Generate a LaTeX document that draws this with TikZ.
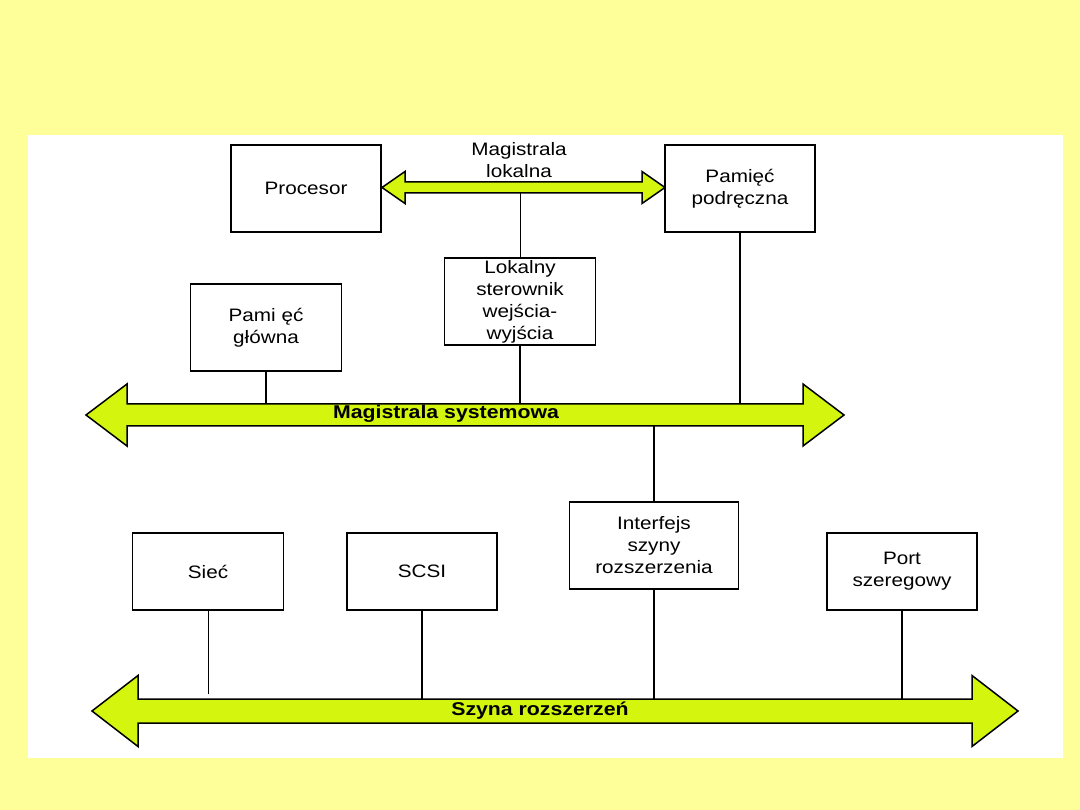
\documentclass[tikz,border=0pt]{standalone}
\usepackage{fontspec}
\setmainfont{Liberation Sans}[FakeStretch=1.15]
\definecolor{bg}{RGB}{255,255,153}
\definecolor{bus}{RGB}{212,245,14}
\tikzset{
  box/.style={draw=black, fill=white, line width=1.6pt, align=center, inner sep=0pt,
    font=\fontsize{18}{22}\selectfont},
  busshape/.style={draw=black, fill=bus, line width=1.5pt, line join=miter},
  wire/.style={draw=black, line width=1.8pt},
  thinwire/.style={draw=black, line width=1pt},
  buslabel/.style={font=\fontsize{18.5}{22}\selectfont\bfseries, inner sep=0pt},
  plain/.style={align=center, inner sep=0pt, font=\fontsize{18}{22}\selectfont}
}
\newcommand\busarrow[6]{% left tip x, right tip x, yc, head length, head half, shaft half
  \path[busshape] (#1,#3) -- (#1+#4,#3-#5) -- (#1+#4,#3-#6) -- (#2-#4,#3-#6) -- (#2-#4,#3-#5)
    -- (#2,#3) -- (#2-#4,#3+#5) -- (#2-#4,#3+#6) -- (#1+#4,#3+#6) -- (#1+#4,#3+#5) -- cycle;}
\begin{document}
\begin{tikzpicture}[x=1pt,y=-1pt]
\fill[bg] (0,0) rectangle (1080,810);
\useasboundingbox (0,0) rectangle (1080,810);
\fill[white] (28,135) rectangle (1063,758);

% buses
\busarrow{382}{665}{187.5}{23}{16}{5.5}
\busarrow{86}{844}{415}{41}{31}{11}
\busarrow{92}{1018}{711}{46}{35.5}{12}

% boxes
\node[box, minimum width=150pt, minimum height=87pt] (proc) at (306,188.5) {Procesor};
\node[box, minimum width=150pt, minimum height=87pt] (cache) at (740,188.5) {Pamięć\\podręczna};
\node[box, minimum width=151pt, minimum height=87pt] (lok) at (520,301.5) {Lokalny\\sterownik\\wejścia-\\wyjścia};
\node[box, minimum width=151pt, minimum height=87pt] (mem) at (266,327.5) {Pami ęć\\główna};
\node[box, minimum width=169pt, minimum height=87pt] (intf) at (654,545.5) {Interfejs\\szyny\\rozszerzenia};
\node[box, minimum width=151pt, minimum height=77pt] (siec) at (208,571.5) {Sieć};
\node[box, minimum width=150pt, minimum height=77pt] (scsi) at (422,571.5) {SCSI};
\node[box, minimum width=150pt, minimum height=77pt] (port) at (902,571.5) {Port\\szeregowy};

% labels
\node[plain] (lmlabel) at (519,160) {Magistrala\\lokalna};
\node[buslabel] (syslabel) at (446,414) {Magistrala systemowa};
\node[buslabel] (exlabel) at (540,711) {Szyna rozszerzeń};

% bus attachment points
\coordinate (lbot) at (520,193);
\coordinate (s1) at (266,404);
\coordinate (s2) at (520,404);
\coordinate (s3) at (740,404);
\coordinate (s4) at (654,426);
\coordinate (e1) at (208,694);
\coordinate (e2) at (422,699);
\coordinate (e3) at (654,699);
\coordinate (e4) at (902,699);

% connectors
\draw[thinwire] (lbot) -- (lok.north);
\draw[wire] (mem.south) -- (s1);
\draw[wire] (lok.south) -- (s2);
\draw[wire] (cache.south) -- (s3);
\draw[wire] (s4) -- (intf.north);
\draw[thinwire] (siec.south) -- (e1);
\draw[wire] (scsi.south) -- (e2);
\draw[wire] (intf.south) -- (e3);
\draw[wire] (port.south) -- (e4);
\end{tikzpicture}
\end{document}
